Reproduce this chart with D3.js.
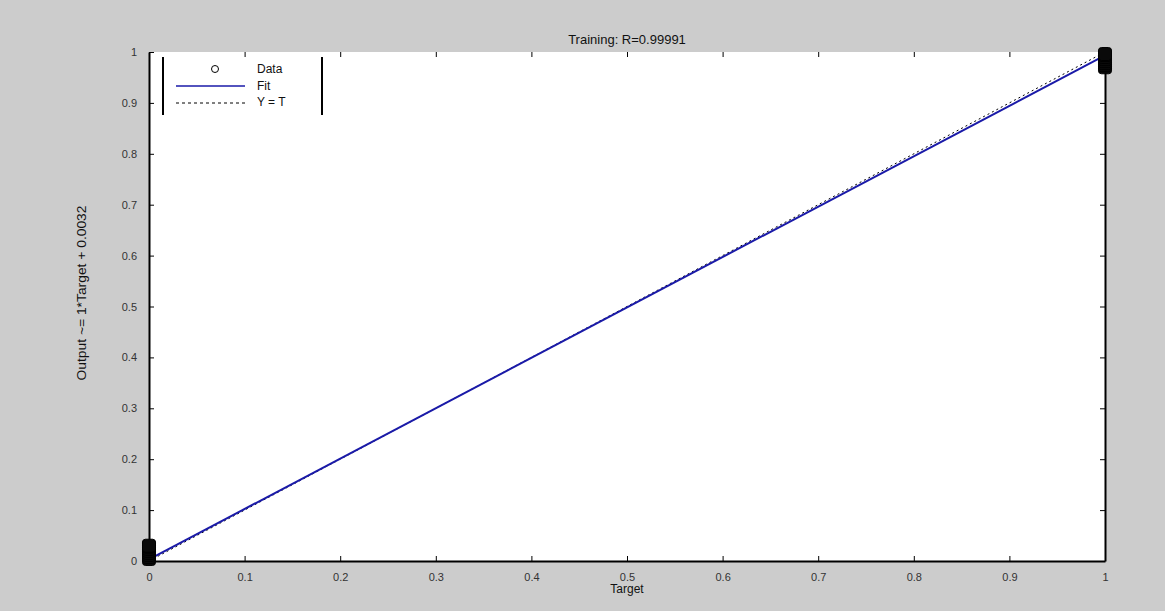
<!DOCTYPE html>
<html><head><meta charset="utf-8">
<script src="https://cdn.jsdelivr.net/npm/d3@7"></script>
<style>body{margin:0;background:#cccccc;}svg{display:block;}</style>
</head><body>
<script>
const title = "Training: R=0.99991";
const xLabel = "Target";
const yLabel = "Output ~= 1*Target + 0.0032";
const xTicks = [0,0.1,0.2,0.3,0.4,0.5,0.6,0.7,0.8,0.9,1];
const yTicks = [0,0.1,0.2,0.3,0.4,0.5,0.6,0.7,0.8,0.9,1];
const dataTargets = [0,0,0,0,0,0,0,0,1,1,1,1,1,1,1,1];
const dataOutputs = [0.004,0.008,0.012,0.016,0.020,0.024,0.028,0.030,0.970,0.974,0.978,0.982,0.986,0.990,0.994,0.996];
const fitSlope = 0.99;
const fitIntercept = 0.0032;
const legendLabels = ["Data","Fit","Y = T"];

const W=1165,H=611;
const svg=d3.select("body").append("svg").attr("width",W).attr("height",H);
svg.append("rect").attr("width",W).attr("height",H).attr("fill","#cccccc");
const L=149,R=1105,T=52,B=561;
const x=d3.scaleLinear().domain([0,1]).range([L,R]);
const y=d3.scaleLinear().domain([0,1]).range([B,T]);
svg.append("rect").attr("x",L).attr("y",T).attr("width",R-L).attr("height",B-T).attr("fill","#ffffff");

const font="Liberation Sans, Arial, sans-serif";
const xa=svg.append("g").attr("transform",`translate(0,${B})`)
 .call(d3.axisBottom(x).tickValues(xTicks).tickFormat(d=>d3.format("")(d)).tickSizeInner(-5).tickSizeOuter(0).tickPadding(12));
const ya=svg.append("g").attr("transform",`translate(${L},0)`)
 .call(d3.axisLeft(y).tickValues(yTicks).tickFormat(d=>d3.format("")(d)).tickSizeInner(-5).tickSizeOuter(0).tickPadding(12));
[xa,ya].forEach(g=>{g.select(".domain").attr("stroke","#000").attr("stroke-width",2);
 g.selectAll(".tick line").attr("stroke","#000");
 g.selectAll("text").attr("font-family",font).attr("font-size",11).attr("fill","#333");});
svg.append("g").attr("transform",`translate(0,${T})`)
 .call(d3.axisTop(x).tickValues(xTicks).tickFormat("").tickSizeInner(-5).tickSizeOuter(0))
 .call(g=>{g.select(".domain").remove();g.selectAll("line").attr("stroke","#000");});
svg.append("g").attr("transform",`translate(${R},0)`)
 .call(d3.axisRight(y).tickValues(yTicks).tickFormat("").tickSizeInner(-5).tickSizeOuter(0))
 .call(g=>{g.select(".domain").attr("stroke","#000").attr("stroke-width",2);g.selectAll("line").attr("stroke","#000");});

svg.append("line").attr("x1",x(0)).attr("y1",y(0)).attr("x2",x(1)).attr("y2",y(1))
 .attr("stroke","#000").attr("stroke-dasharray","2,3").attr("stroke-width",1);
svg.append("line").attr("x1",x(0)).attr("y1",y(fitIntercept)).attr("x2",x(1)).attr("y2",y(fitSlope+fitIntercept))
 .attr("stroke","#1a1aa8").attr("stroke-width",2);
svg.append("g").selectAll("rect").data(dataTargets.map((t,i)=>[t,dataOutputs[i]])).join("rect")
 .attr("x",d=>x(d[0])-6.5).attr("y",d=>y(d[1])-6.5).attr("width",13).attr("height",13).attr("rx",3)
 .attr("fill","#0a0a0a").attr("stroke","#000").attr("stroke-width",1);

svg.append("text").attr("x",(L+R)/2).attr("y",44).attr("text-anchor","middle")
 .attr("font-family",font).attr("font-size",13).attr("fill","#111").text(title);
svg.append("text").attr("x",(L+R)/2).attr("y",593).attr("text-anchor","middle")
 .attr("font-family",font).attr("font-size",12).attr("fill","#111").text(xLabel);
svg.append("text").attr("transform",`translate(86,293) rotate(-90)`).attr("text-anchor","middle")
 .attr("font-family",font).attr("font-size",12).attr("fill","#111").attr("textLength",175).attr("lengthAdjust","spacingAndGlyphs").text(yLabel);

const lg=svg.append("g");
lg.append("line").attr("x1",163).attr("y1",57).attr("x2",163).attr("y2",115).attr("stroke","#000").attr("stroke-width",2);
lg.append("line").attr("x1",322).attr("y1",57).attr("x2",322).attr("y2",115).attr("stroke","#000").attr("stroke-width",2);
lg.append("circle").attr("cx",215).attr("cy",69).attr("r",3.5).attr("fill","none").attr("stroke","#000");
lg.append("line").attr("x1",176).attr("y1",86).attr("x2",245).attr("y2",86).attr("stroke","#1a1aa8").attr("stroke-width",1.5);
lg.append("line").attr("x1",176).attr("y1",103).attr("x2",245).attr("y2",103).attr("stroke","#000").attr("stroke-dasharray","3,3");
legendLabels.forEach((t,i)=>lg.append("text").attr("x",257).attr("y",73+i*16.5)
 .attr("font-family",font).attr("font-size",12).attr("fill","#111").text(t));
</script>
</body></html>
